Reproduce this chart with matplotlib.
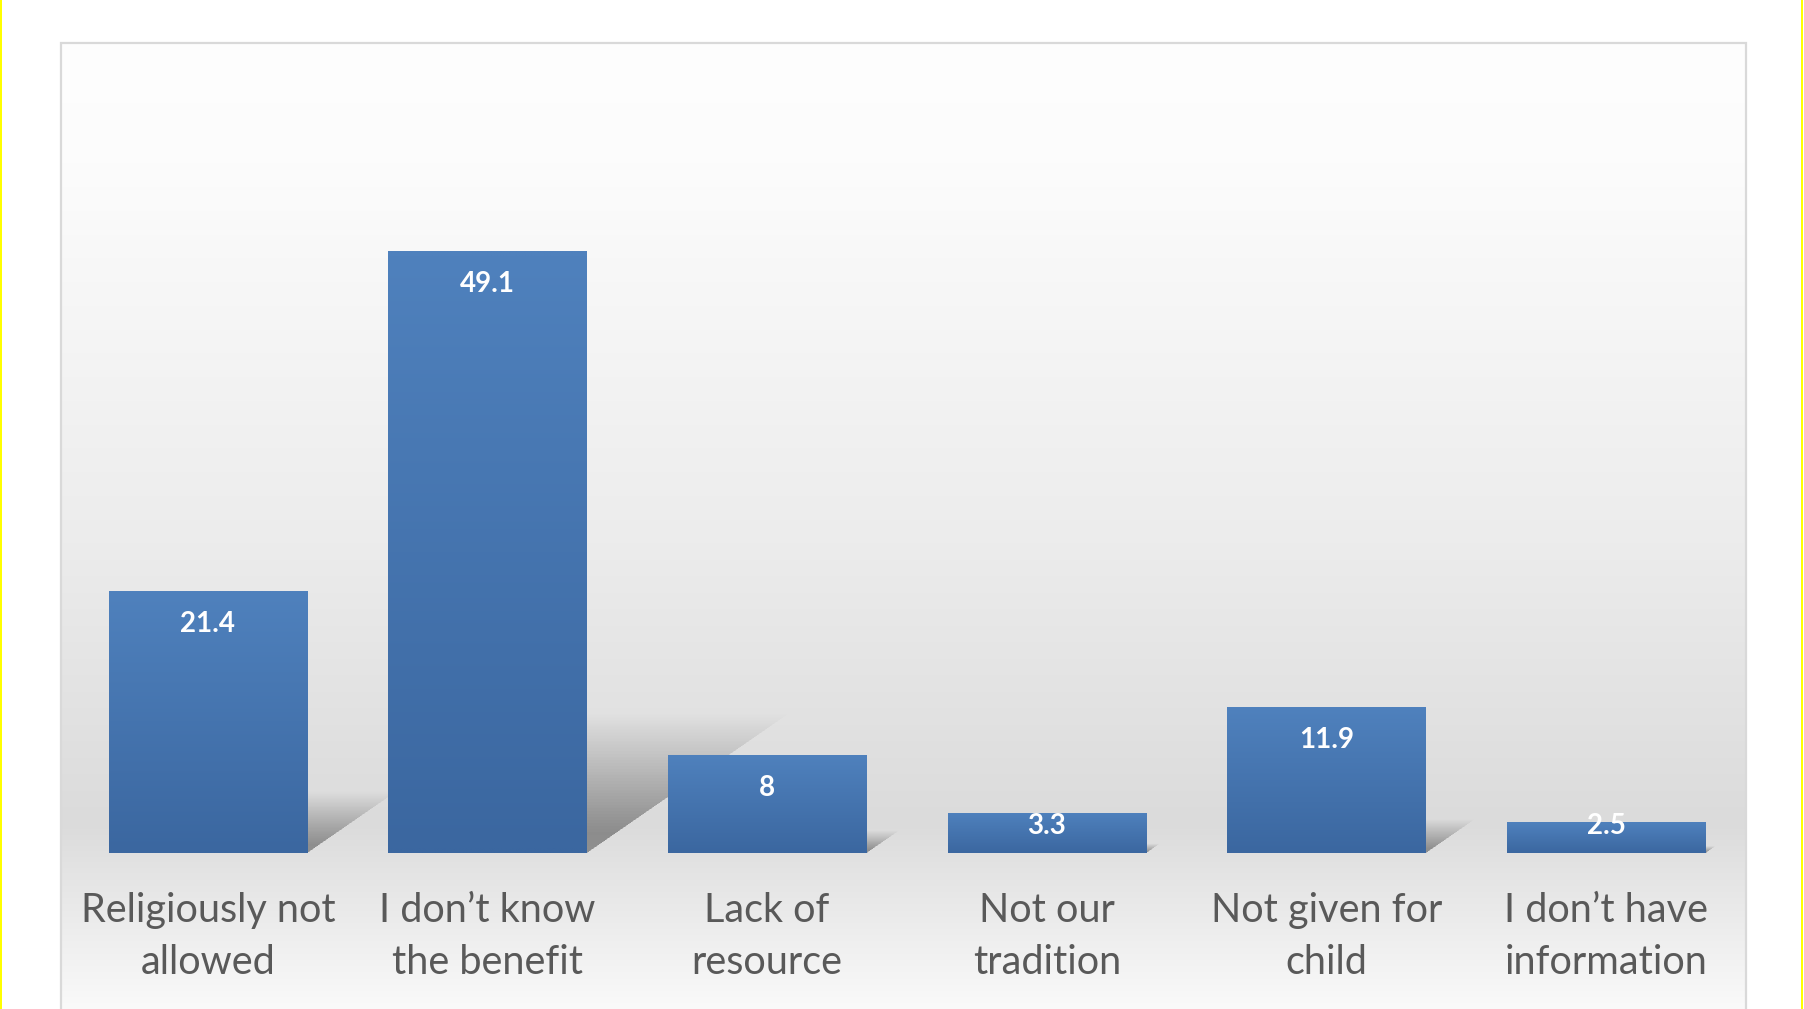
import matplotlib
matplotlib.use("Agg")
import matplotlib.pyplot as plt
import numpy as np
from matplotlib.patches import Rectangle, Polygon

# data
categories = [
    "Religiously not\nallowed",
    "I don\u2019t know\nthe benefit",
    "Lack of\nresource",
    "Not our\ntradition",
    "Not given for\nchild",
    "I don\u2019t have\ninformation",
]
values = [21.4, 49.1, 8, 3.3, 11.9, 2.5]
value_labels = ["21.4", "49.1", "8", "3.3", "11.9", "2.5"]

W, H = 1804, 1009
plt.rcParams['font.family'] = ['Lato', 'DejaVu Sans']

fig = plt.figure(figsize=(W / 100, H / 100), dpi=100)
fig.patch.set_facecolor("white")

# panel background gradient (white at top, grey near the baseline, light at bottom)
px_left, px_right, px_top = 61, 1746, 43
bg = fig.add_axes([px_left / W, 0, (px_right - px_left) / W, (H - px_top) / H])
rows = np.arange(H - px_top)
grey = np.interp(rows, [0, 120, 500, 780, 830, 966], [254, 252, 236, 219, 228, 250])
grad = np.repeat(grey[:, None], 4, axis=1) / 255.0
bg.imshow(np.dstack([grad, grad, grad]), aspect="auto", extent=[0, 1, 0, 1],
          interpolation="bilinear")
bg.set_axis_off()

# panel border
fig.patches.append(Rectangle((px_left / W, -0.05), (px_right - px_left) / W,
                             (H - px_top) / H + 0.05, transform=fig.transFigure,
                             fill=False, edgecolor="#d9d9d9", linewidth=1.6))
# yellow page edges
fig.patches.append(Rectangle((0, 0), 1.5 / W, 1, transform=fig.transFigure,
                             color="#ffff00", linewidth=0))
fig.patches.append(Rectangle((1801 / W, 0), 1.5 / W, 1, transform=fig.transFigure,
                             color="#ffff00", linewidth=0))

# main axes
base_px, unit_px = 853, 12.26
ymax = 60
ax = fig.add_axes([68 / W, (H - base_px) / H, 1678 / W, ymax * unit_px / H])
ax.set_facecolor("none")
x = np.arange(len(values))
width = 0.71
bars = ax.bar(x, values, width=width, color="#4472c4", zorder=3)
ax.set_xlim(-0.5, len(values) - 0.5)
ax.set_ylim(0, ymax)

# bar gradients
for b in bars:
    bx, by = b.get_x(), b.get_y()
    bw, bh = b.get_width(), b.get_height()
    cols = np.linspace(0, 1, 64)[:, None]
    top = np.array([0x4f, 0x81, 0xbd]) / 255.0
    bot = np.array([0x3b, 0x67, 0xa0]) / 255.0
    img = top[None, None, :] * (1 - cols[:, :, None]) + bot[None, None, :] * cols[:, :, None]
    im = ax.imshow(img, extent=[bx, bx + bw, by, by + bh], aspect="auto",
                   zorder=3.5, interpolation="bilinear")
    im.set_clip_path(b)

# perspective shadows (stacked translucent layers -> fade upward)
for xi, v in zip(x, values):
    dy = 0.23 * v
    dx = 0.0146 * v
    l, r = xi - width / 2, xi + width / 2
    for f in np.linspace(0.15, 1.0, 40):
        poly = Polygon([(l, 0), (r, 0), (r + dx * f, dy * f), (l + dx * f, dy * f)],
                       closed=True, facecolor="#000000", alpha=0.0075,
                       edgecolor="none", zorder=2)
        ax.add_patch(poly)

# value labels
for xi, v, lab in zip(x, values, value_labels):
    ax.text(xi, max(v - 2.7, 2.2), lab, ha="center", va="center",
            color="white", fontsize=20, fontweight="bold", zorder=5)

ax.set_xticks(x)
ax.set_xticklabels(categories, fontsize=28.5, color="#595959", linespacing=1.5)
ax.tick_params(axis="x", length=0, pad=28)
ax.set_yticks([])
for s in ax.spines.values():
    s.set_visible(False)

fig.savefig("out.png", dpi=100, facecolor="white")
